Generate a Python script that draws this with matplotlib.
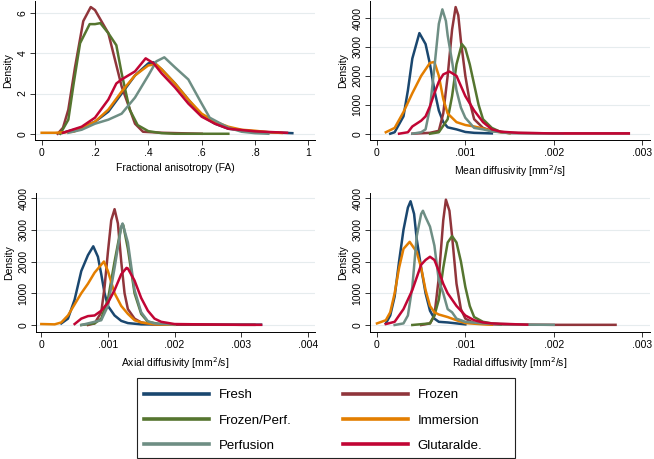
import matplotlib.pyplot as plt
from matplotlib.lines import Line2D
from matplotlib.patches import Rectangle

plt.rcParams["font.family"] = ["Liberation Sans", "DejaVu Sans"]

# group names and colours
groups = ["Fresh", "Frozen", "Frozen/Perf.", "Immersion", "Perfusion", "Glutaralde."]
colors = ["#1a476f", "#90353b", "#55752f", "#e37e00", "#6e8e84", "#c10534"]

# -------------------------------
# Fractional anisotropy (FA): (x, density) per group
# -------------------------------
fa_fresh_x = [0.07, 0.15, 0.2, 0.25, 0.3, 0.35, 0.4, 0.42, 0.45, 0.5, 0.55, 0.6, 0.65, 0.7, 0.8, 0.9, 0.94]
fa_fresh_y = [0.02, 0.3, 0.6, 1.1, 2.0, 2.9, 3.5, 3.55, 3.2, 2.5, 1.7, 0.9, 0.5, 0.25, 0.1, 0.05, 0.03]
fa_frozen_x = [0.06, 0.08, 0.1, 0.125, 0.156, 0.184, 0.2, 0.25, 0.3, 0.35, 0.38, 0.45, 0.6]
fa_frozen_y = [0.0, 0.3, 1.2, 3.3, 5.6, 6.3, 6.15, 5.0, 2.35, 0.5, 0.1, 0.05, 0.0]
fa_frozenperf_x = [0.07, 0.1, 0.12, 0.144, 0.18, 0.2, 0.22, 0.25, 0.28, 0.3, 0.33, 0.36, 0.4, 0.45, 0.5, 0.7]
fa_frozenperf_y = [0.0, 0.7, 2.5, 4.5, 5.45, 5.45, 5.5, 5.0, 4.4, 3.0, 1.2, 0.43, 0.13, 0.03, 0.0, 0.0]
fa_immersion_x = [0.0, 0.05, 0.12, 0.2, 0.25, 0.3, 0.35, 0.4, 0.43, 0.45, 0.5, 0.55, 0.6, 0.65, 0.7, 0.75, 0.8, 0.85, 0.9]
fa_immersion_y = [0.05, 0.05, 0.1, 0.6, 1.2, 2.1, 2.9, 3.4, 3.45, 3.2, 2.5, 1.7, 1.0, 0.6, 0.35, 0.2, 0.15, 0.08, 0.04]
fa_perfusion_x = [0.1, 0.15, 0.2, 0.25, 0.3, 0.35, 0.4, 0.43, 0.46, 0.5, 0.55, 0.6, 0.63, 0.7, 0.75, 0.8, 0.85]
fa_perfusion_y = [0.05, 0.2, 0.5, 0.7, 1.0, 1.8, 2.9, 3.6, 3.8, 3.3, 2.7, 1.5, 0.8, 0.3, 0.1, 0.03, 0.0]
fa_glut_x = [0.08, 0.15, 0.2, 0.25, 0.28, 0.3, 0.35, 0.39, 0.42, 0.45, 0.5, 0.55, 0.6, 0.65, 0.7, 0.8, 0.92]
fa_glut_y = [0.05, 0.35, 0.8, 1.7, 2.5, 2.7, 3.1, 3.75, 3.5, 3.0, 2.3, 1.5, 0.85, 0.5, 0.25, 0.12, 0.05]

# -------------------------------
# Mean diffusivity
# -------------------------------
md_fresh_x = [0.00015, 0.0002, 0.0003, 0.00035, 0.0004, 0.00048, 0.00055, 0.0006, 0.00065, 0.0007, 0.00075, 0.0008, 0.0009, 0.001, 0.0011, 0.0013]
md_fresh_y = [0, 50, 600, 1500, 2600, 3480, 3100, 2400, 1500, 800, 400, 220, 150, 60, 30, 10]
md_frozen_x = [0.0004, 0.0006, 0.0007, 0.00075, 0.0008, 0.00085, 0.00089, 0.00092, 0.00095, 0.001, 0.00105, 0.0011, 0.0012, 0.0013, 0.0015, 0.002, 0.00285]
md_frozen_y = [0, 30, 100, 700, 2000, 3600, 4380, 4100, 3200, 2000, 1100, 500, 200, 100, 30, 10, 10]
md_frozenperf_x = [0.0006, 0.0007, 0.0008, 0.00085, 0.0009, 0.00096, 0.001, 0.00105, 0.0011, 0.00115, 0.0012, 0.0013, 0.0014, 0.0015]
md_frozenperf_y = [0, 50, 500, 1300, 2400, 3100, 2950, 2400, 1700, 1000, 500, 200, 60, 20]
md_immersion_x = [0.0001, 0.0002, 0.0003, 0.0004, 0.0005, 0.0006, 0.00065, 0.0007, 0.00075, 0.0008, 0.0009, 0.001, 0.0011, 0.0012, 0.0013, 0.0014, 0.0015]
md_immersion_y = [50, 200, 750, 1400, 2000, 2450, 2480, 2000, 1200, 700, 400, 300, 250, 180, 100, 50, 20]
md_perfusion_x = [0.0004, 0.0005, 0.00055, 0.0006, 0.00065, 0.0007, 0.00074, 0.00078, 0.0008, 0.00085, 0.0009, 0.00095, 0.001, 0.0011, 0.0012, 0.0013, 0.0015, 0.0021]
md_perfusion_y = [0, 50, 150, 900, 2300, 3800, 4300, 3900, 3400, 2500, 1500, 900, 550, 200, 150, 80, 20, 0]
md_glut_x = [0.00025, 0.00035, 0.0004, 0.00045, 0.0005, 0.00055, 0.0006, 0.00065, 0.0007, 0.00075, 0.00082, 0.0009, 0.00095, 0.001, 0.00105, 0.0011, 0.0012, 0.0013, 0.0014, 0.0016, 0.002, 0.00285]
md_glut_y = [0, 50, 250, 350, 450, 600, 950, 1400, 1800, 2050, 2150, 2000, 1650, 1300, 1050, 800, 400, 150, 70, 30, 10, 10]

# -------------------------------
# Axial diffusivity
# -------------------------------
ad_fresh_x = [0.0003, 0.0004, 0.0005, 0.0006, 0.0007, 0.00078, 0.00085, 0.0009, 0.00095, 0.001, 0.0011, 0.0012, 0.0013, 0.0015, 0.002, 0.0033]
ad_fresh_y = [50, 200, 800, 1700, 2200, 2480, 2150, 1600, 1000, 600, 300, 130, 60, 20, 10, 10]
ad_frozen_x = [0.0007, 0.0008, 0.0009, 0.00095, 0.001, 0.00105, 0.0011, 0.00115, 0.0012, 0.00125, 0.0013, 0.0014, 0.0015, 0.0017, 0.002, 0.0032]
ad_frozen_y = [0, 50, 400, 1200, 2300, 3300, 3650, 3200, 2000, 1000, 500, 200, 80, 20, 10, 5]
ad_frozenperf_x = [0.0006, 0.0008, 0.0009, 0.001, 0.0011, 0.0012, 0.00123, 0.0013, 0.0014, 0.0015, 0.0016, 0.0018]
ad_frozenperf_y = [0, 50, 200, 800, 2000, 3100, 3150, 2400, 1000, 350, 100, 20]
ad_immersion_x = [0.0, 0.0002, 0.0003, 0.0004, 0.0005, 0.0006, 0.0007, 0.0008, 0.00094, 0.001, 0.0011, 0.0012, 0.0013, 0.0014, 0.0015, 0.0017, 0.002]
ad_immersion_y = [30, 20, 80, 300, 650, 1000, 1300, 1650, 2000, 1700, 1000, 600, 350, 150, 80, 20, 5]
ad_perfusion_x = [0.0006, 0.0009, 0.001, 0.0011, 0.0012, 0.00122, 0.0013, 0.0014, 0.0015, 0.0016, 0.0017, 0.002]
ad_perfusion_y = [0, 150, 600, 1800, 3100, 3200, 2600, 1100, 400, 120, 50, 10]
ad_glut_x = [0.0005, 0.0006, 0.0007, 0.0008, 0.0009, 0.001, 0.0011, 0.0012, 0.00128, 0.0013, 0.0014, 0.0015, 0.0016, 0.0017, 0.0018, 0.002, 0.0024, 0.003, 0.0033]
ad_glut_y = [30, 200, 280, 300, 450, 700, 1100, 1600, 1800, 1780, 1400, 850, 450, 200, 100, 30, 20, 5, 5]

# -------------------------------
# Radial diffusivity
# -------------------------------
rd_fresh_x = [0.0001, 0.00015, 0.0002, 0.00025, 0.0003, 0.00035, 0.00038, 0.00042, 0.00045, 0.0005, 0.00055, 0.0006, 0.00065, 0.0007, 0.0008, 0.0009, 0.001]
rd_fresh_y = [50, 300, 900, 2000, 3000, 3700, 3900, 3500, 2700, 1800, 1000, 450, 200, 100, 80, 50, 20]
rd_frozen_x = [0.0005, 0.0006, 0.00065, 0.0007, 0.00075, 0.00078, 0.00082, 0.00085, 0.0009, 0.00095, 0.001, 0.0011, 0.0013, 0.002, 0.0027]
rd_frozen_y = [0, 50, 300, 1500, 3300, 3950, 3600, 2800, 1300, 500, 200, 60, 20, 5, 5]
rd_frozenperf_x = [0.0004, 0.0006, 0.00065, 0.0007, 0.00075, 0.0008, 0.00085, 0.0009, 0.00095, 0.001, 0.00105, 0.0011, 0.0012, 0.0013, 0.0014]
rd_frozenperf_y = [0, 50, 300, 800, 1800, 2600, 2800, 2600, 2000, 1200, 600, 250, 100, 50, 20]
rd_immersion_x = [0.0, 0.0001, 0.00015, 0.0002, 0.00025, 0.0003, 0.00037, 0.00045, 0.0005, 0.00055, 0.0006, 0.00065, 0.0007, 0.0008, 0.0009, 0.001, 0.0012, 0.0013]
rd_immersion_y = [50, 150, 400, 1000, 1800, 2400, 2620, 2300, 1800, 1100, 600, 400, 330, 250, 150, 60, 20, 10]
rd_perfusion_x = [0.0002, 0.0003, 0.00035, 0.0004, 0.00045, 0.0005, 0.00052, 0.00055, 0.0006, 0.00065, 0.0007, 0.00075, 0.0008, 0.00085, 0.0009, 0.001, 0.0012, 0.0014, 0.0017, 0.002]
rd_perfusion_y = [0, 50, 300, 1200, 2800, 3500, 3600, 3400, 3100, 2500, 1400, 1000, 500, 400, 200, 100, 50, 30, 10, 5]
rd_glut_x = [0.0001, 0.0002, 0.0003, 0.0004, 0.00045, 0.0005, 0.00055, 0.0006, 0.00065, 0.0007, 0.00075, 0.0008, 0.00085, 0.0009, 0.001, 0.0011, 0.0012, 0.0013, 0.0015, 0.0017]
rd_glut_y = [30, 100, 500, 1100, 1500, 1900, 2050, 2150, 2050, 1700, 1300, 1000, 800, 600, 300, 150, 80, 50, 30, 10]

fa_curves = [(fa_fresh_x, fa_fresh_y), (fa_frozen_x, fa_frozen_y), (fa_frozenperf_x, fa_frozenperf_y),
             (fa_immersion_x, fa_immersion_y), (fa_perfusion_x, fa_perfusion_y), (fa_glut_x, fa_glut_y)]
md_curves = [(md_fresh_x, md_fresh_y), (md_frozen_x, md_frozen_y), (md_frozenperf_x, md_frozenperf_y),
             (md_immersion_x, md_immersion_y), (md_perfusion_x, md_perfusion_y), (md_glut_x, md_glut_y)]
ad_curves = [(ad_fresh_x, ad_fresh_y), (ad_frozen_x, ad_frozen_y), (ad_frozenperf_x, ad_frozenperf_y),
             (ad_immersion_x, ad_immersion_y), (ad_perfusion_x, ad_perfusion_y), (ad_glut_x, ad_glut_y)]
rd_curves = [(rd_fresh_x, rd_fresh_y), (rd_frozen_x, rd_frozen_y), (rd_frozenperf_x, rd_frozenperf_y),
             (rd_immersion_x, rd_immersion_y), (rd_perfusion_x, rd_perfusion_y), (rd_glut_x, rd_glut_y)]

# tick values and labels
fa_xticks = [0, 0.2, 0.4, 0.6, 0.8, 1.0]
fa_xlabels = ["0", ".2", ".4", ".6", ".8", "1"]
fa_yticks = [0, 2, 4, 6]
md_xticks = [0, 0.001, 0.002, 0.003]
md_xlabels = ["0", ".001", ".002", ".003"]
ad_xticks = [0, 0.001, 0.002, 0.003, 0.004]
ad_xlabels = ["0", ".001", ".002", ".003", ".004"]
diff_yticks = [0, 1000, 2000, 3000, 4000]

W, H = 654, 459
fig = plt.figure(figsize=(W / 100, H / 100), dpi=100)


def make_axes(left, top, right, bottom):
    return fig.add_axes([left / W, 1 - bottom / H, (right - left) / W, (bottom - top) / H])


panels = [
    (make_axes(35, 1, 315, 140), fa_curves, fa_xticks, fa_xlabels, fa_yticks,
     (-0.025, 1.025), (-0.31, 6.6), "Fractional anisotropy (FA)"),
    (make_axes(370, 1, 650, 140), md_curves, md_xticks, md_xlabels, diff_yticks,
     (-0.000079, 0.00309), (-218, 4590), "Mean diffusivity [mm$^2$/s]"),
    (make_axes(36, 193, 315, 332), ad_curves, ad_xticks, ad_xlabels, diff_yticks,
     (-0.00008, 0.00411), (-221, 4160), "Axial diffusivity [mm$^2$/s]"),
    (make_axes(370, 193, 650, 332), rd_curves, md_xticks, md_xlabels, diff_yticks,
     (-0.000079, 0.00309), (-221, 4160), "Radial diffusivity [mm$^2$/s]"),
]

for ax, curves, xt, xl, yt, xlim, ylim, xlabel in panels:
    for (x, y), c in zip(curves, colors):
        ax.plot(x, y, color=c, linewidth=1.8, solid_joinstyle="round")
    ax.set_xlim(xlim)
    ax.set_ylim(ylim)
    ax.set_xticks(xt)
    ax.set_xticklabels(xl)
    ax.set_yticks(yt)
    ax.set_yticklabels([str(v) for v in yt], rotation=90, va="center")
    ax.set_xlabel(xlabel, fontsize=7.5, labelpad=4)
    ax.set_ylabel("Density", fontsize=7.5, labelpad=3)
    ax.tick_params(labelsize=7.5, length=3.5, width=0.7, color="#333333", pad=2)
    ax.spines["top"].set_visible(False)
    ax.spines["right"].set_visible(False)
    ax.spines["left"].set_linewidth(0.7)
    ax.spines["bottom"].set_linewidth(0.7)
    ax.grid(axis="y", color="#e6ecee", linewidth=0.8)
    ax.set_axisbelow(True)

# legend, filled column by column; frame drawn separately
order = [0, 2, 4, 1, 3, 5]
handles = [Line2D([], [], color=colors[i], linewidth=2.6) for i in order]
labels = [groups[i] for i in order]
fig.legend(handles, labels, ncol=2, loc="upper left",
           bbox_to_anchor=(144 / W, 1 - 389 / H), fontsize=9.5,
           handlelength=4.9, handletextpad=0.76, columnspacing=3.9,
           labelspacing=1.0, borderpad=0, borderaxespad=0, frameon=False)
fig.patches.append(Rectangle((137 / W, 1 - 458 / H), 378 / W, 80 / H,
                             transform=fig.transFigure, fill=False,
                             edgecolor="#222222", linewidth=0.8))

plt.savefig("out.png", dpi=100)
